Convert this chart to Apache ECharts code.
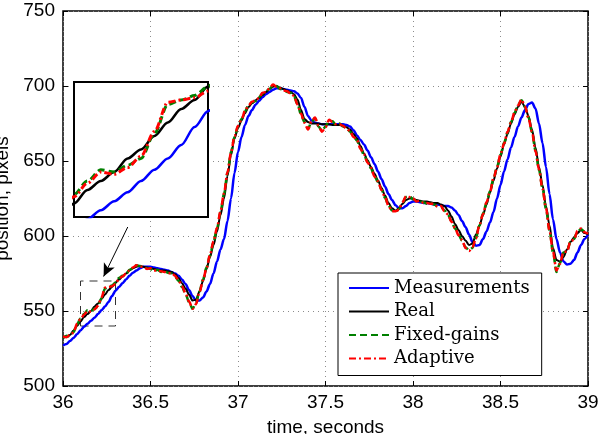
<!DOCTYPE html>
<html>
<head>
<meta charset="utf-8">
<script src="https://cdn.jsdelivr.net/npm/echarts@6/dist/echarts.min.js"></script>
<style>
  html, body { margin: 0; padding: 0; background: #fff; }
  #chart { width: 607px; height: 434px; }
</style>
</head>
<body>
<div id="chart"></div>
<script>
// samples every 0.02 s from 36.00 to 39.00 (151 points)
var t0 = 36, dt = 0.02;

var measurements = [
    527, 528, 530, 532, 534.5, 537, 539.5, 541.5, 543.5, 545.5,
    548, 550.5, 553, 556, 560, 563.5, 566, 568.5, 571, 573.5,
    575.5, 577, 578.5, 579.5, 579.5, 579.5, 579, 578.5, 578, 577.5,
    577, 576, 575, 573.5, 571, 568, 564, 560, 557, 557,
    559, 563, 568, 575, 583, 591, 598, 610, 625, 642,
    656, 666, 674, 680, 684, 687.5, 690, 692.5, 694.5, 696,
    697.5, 698.5, 698.5, 698, 697.5, 697, 696.5, 695, 692, 686,
    680, 677, 675.5, 675, 674.5, 674.5, 674.5, 674.5, 674.5, 674.5,
    674.5, 674, 673, 670.5, 667, 664, 661, 657, 652.5, 648,
    643, 638, 633, 628, 624, 620.5, 618.5, 618.5, 620, 622,
    623, 623, 622.5, 622, 622, 621.5, 621, 621, 620.5, 620,
    620, 619, 617, 614, 610, 606, 601, 596, 593.5, 594,
    598, 603, 609, 616, 625, 634, 643, 651, 659, 666,
    673, 679, 684, 688, 689, 685, 675, 662, 646, 628,
    611, 598, 589, 583, 581, 581.5, 584, 589, 594, 598,
    601
];

var real = [
    532, 533, 534, 537, 540, 543, 546, 548, 550, 553,
    555, 558, 561, 564, 566, 569, 571, 573, 575, 577,
    578.5, 579.5, 580, 579.5, 579, 578.5, 578, 577.5, 577, 577,
    576.5, 576, 574.5, 572, 568.5, 565, 561, 557, 557.5, 563,
    570, 578, 586, 594, 603, 614, 625, 640, 654, 665,
    672, 677, 682, 686, 688.5, 690.5, 692, 694, 696, 698,
    699.5, 700, 699, 698, 697, 696, 694.5, 691, 684, 678,
    676, 675, 675, 675, 674.5, 674.5, 674.5, 674, 674, 674,
    673.5, 672.5, 671, 668, 665, 660, 655, 650.5, 646, 641.5,
    637, 632, 627, 622, 618.5, 617, 618.5, 621.5, 624, 625,
    625, 624, 623.5, 623, 623, 622.5, 622, 622, 621, 620,
    617, 613, 608, 604, 600, 597, 594, 595, 601, 607,
    614, 621, 629, 637, 645, 653, 661, 668, 675, 681,
    686, 689.5, 686, 680, 671, 659, 646, 634, 620, 607,
    592, 584, 583, 586, 591, 596, 599, 602, 604, 602,
    601
];

var fixedGains = [
    532, 533.5, 533, 536, 541, 545, 548, 550.5, 550, 551.5,
    553, 558.5, 565, 566, 567, 569, 572, 573.5, 574.5, 577.5,
    578.5, 580.5, 580, 579, 578.5, 578, 576.5, 577.5, 576, 576.5,
    575.5, 575, 573, 570, 566, 561.5, 556, 551.5, 555, 563,
    571, 579, 587, 596, 605, 616, 628, 642, 656, 666,
    673, 678, 683, 687.5, 689, 690, 692.5, 695, 696.5, 698,
    700.5, 700, 698, 697.5, 696, 695.5, 693, 688, 681, 676,
    671.5, 676, 678.5, 673, 670, 673, 677, 676.5, 674, 675,
    673, 672, 669.5, 666.5, 663.5, 658.5, 654, 649.5, 645, 640,
    636, 631, 625.5, 620.5, 617, 616, 618, 622, 626, 626.5,
    624.5, 623.5, 623, 622.5, 621.5, 622, 621, 620, 619.5, 617,
    614, 610, 605, 601, 597, 592.5, 590.5, 592, 599, 607,
    615, 622, 630, 638, 646, 654, 662, 669, 676, 682,
    687.5, 690.5, 686, 679, 669, 657, 644, 632, 618, 604,
    589, 576, 582, 589, 590, 596, 598, 603, 604.5, 603,
    601
];

var adaptive = [
    533, 532.5, 534, 535.5, 541.5, 544.5, 547.5, 550, 549.5, 551,
    553.5, 559, 565.5, 566, 566.5, 568, 571.5, 573, 575, 577,
    579, 580.5, 579.5, 579.5, 578, 578.5, 577, 577, 576.5, 576,
    575, 575.5, 573.5, 570.5, 566.5, 562, 556.5, 551.5, 554.5, 562.5,
    570.5, 578.5, 587.5, 596.5, 605.5, 616.5, 628.5, 642.5, 655.5, 666.5,
    673.5, 677.5, 683.5, 687, 689.5, 690.5, 692, 695.5, 696, 698.5,
    701, 699.5, 698.5, 697, 696.5, 695, 693.5, 687.5, 681.5, 675.5,
    671, 676.5, 679, 673.5, 669.5, 672.5, 677.5, 676, 674.5, 674.5,
    673.5, 671.5, 670, 666, 664, 658, 654.5, 649, 645.5, 639.5,
    636.5, 630.5, 626, 620, 616.5, 616.5, 617.5, 622.5, 626.5, 626,
    625, 623, 623.5, 622, 622, 621.5, 621.5, 619.5, 620, 616.5,
    614.5, 609.5, 605.5, 600.5, 597.5, 592, 590, 592.5, 598.5, 607.5,
    614.5, 622.5, 629.5, 638.5, 645.5, 654.5, 661.5, 669.5, 675.5, 682.5,
    687, 691, 686.5, 678.5, 669.5, 656.5, 644.5, 631.5, 618.5, 603.5,
    589.5, 577, 581.5, 589.5, 589.5, 596.5, 597.5, 603.5, 605, 602.5,
    601.5
];

var legendNames = ['Measurements', 'Real', 'Fixed-gains', 'Adaptive'];

function pairs(vals) {
    return vals.map(function (v, i) {
        return [+(t0 + i * dt).toFixed(2), v];
    });
}

var chart = echarts.init(document.getElementById('chart'));

var labelFont = { color: '#000', fontFamily: 'Liberation Sans', fontSize: 19 };
var dots = { color: '#8c8c8c', width: 1, type: [1, 4] };
var tick = { show: true, inside: true, length: 5, lineStyle: { color: '#000', width: 1 } };

function mkSeries(name, vals, color, width, type, xi, yi, z) {
    return {
        name: name,
        type: 'line',
        xAxisIndex: xi,
        yAxisIndex: yi,
        data: pairs(vals),
        symbol: 'none',
        showSymbol: false,
        smooth: 0.3,
        smoothMonotone: 'x',
        z: z,
        lineStyle: { color: color, width: width, type: type },
        itemStyle: { color: color }
    };
}

var main = [
    mkSeries('Measurements', measurements, '#0000ff', 2.5, 'solid', 0, 0, 2),
    mkSeries('Real', real, '#000000', 2, 'solid', 0, 0, 2),
    mkSeries('Fixed-gains', fixedGains, '#008000', 2.5, [7, 4], 0, 0, 2),
    mkSeries('Adaptive', adaptive, '#ff0000', 2.5, [7, 3, 2, 3], 0, 0, 2)
];

// zoom box and arrow
main[1].markArea = {
    silent: true,
    itemStyle: { color: 'rgba(0,0,0,0)', borderColor: '#333', borderWidth: 1, borderType: [8, 6] },
    data: [[{ coord: [36.1, 540] }, { coord: [36.3, 570] }]]
};
main[1].markLine = {
    silent: true,
    symbol: ['none', 'arrow'],
    symbolSize: [9, 13],
    label: { show: false },
    lineStyle: { color: '#000', width: 1, type: 'solid' },
    data: [[{ coord: [36.37, 606] }, { coord: [36.232, 573] }]]
};

var inset = [
    mkSeries('Measurements', measurements, '#0000ff', 2.5, 'solid', 2, 2, 5),
    mkSeries('Real', real, '#000000', 2.5, 'solid', 2, 2, 5),
    mkSeries('Fixed-gains', fixedGains, '#008000', 3, [7, 4], 2, 2, 5),
    mkSeries('Adaptive', adaptive, '#ff0000', 3, [7, 3, 2, 3], 2, 2, 5)
];

var option = {
    animation: false,
    backgroundColor: '#fff',
    grid: [
        { left: 63, right: 19, top: 11, bottom: 48, containLabel: false, outerBoundsMode: 'none',
          show: true, borderColor: '#000', borderWidth: 1.5 },
        { left: 74, top: 82, width: 134, height: 135, containLabel: false, outerBoundsMode: 'none',
          show: true, z: 3, backgroundColor: '#fff', borderColor: '#000', borderWidth: 2 }
    ],
    legend: {
        data: legendNames,
        orient: 'vertical',
        left: 338,
        top: 273,
        padding: [6, 12, 8, 10],
        itemWidth: 40,
        itemHeight: 12,
        itemGap: 5.5,
        itemStyle: { opacity: 0 },
        backgroundColor: '#fff',
        borderColor: '#000',
        borderWidth: 1,
        borderRadius: 0,
        z: 10,
        textStyle: { fontFamily: 'DejaVu Serif', fontSize: 18, color: '#000' }
    },
    xAxis: [
        {
            type: 'value', gridIndex: 0, min: 36, max: 39, interval: 0.5,
            name: 'time, seconds', nameLocation: 'middle', nameGap: 32,
            nameTextStyle: labelFont,
            axisLine: { show: false },
            axisTick: tick,
            axisLabel: Object.assign({ margin: 7 }, labelFont),
            splitLine: { show: true, lineStyle: dots }
        },
        {
            type: 'value', gridIndex: 0, position: 'top', min: 36, max: 39, interval: 0.5,
            axisLine: { show: false }, axisTick: tick,
            axisLabel: { show: false }, splitLine: { show: false }
        },
        { type: 'value', gridIndex: 1, min: 36.1, max: 36.3, show: false, splitLine: { show: false } }
    ],
    yAxis: [
        {
            type: 'value', gridIndex: 0, min: 500, max: 750, interval: 50,
            name: 'position, pixels', nameLocation: 'middle', nameGap: 49,
            nameTextStyle: labelFont,
            axisLine: { show: false },
            axisTick: tick,
            axisLabel: Object.assign({ margin: 8 }, labelFont),
            splitLine: { show: true, lineStyle: dots }
        },
        {
            type: 'value', gridIndex: 0, position: 'right', min: 500, max: 750, interval: 50,
            axisLine: { show: false }, axisTick: tick,
            axisLabel: { show: false }, splitLine: { show: false }
        },
        { type: 'value', gridIndex: 1, min: 540, max: 570, show: false, splitLine: { show: false } }
    ],
    series: main.concat(inset)
};

chart.setOption(option);
window.onresize = chart.resize;
</script>
</body>
</html>
